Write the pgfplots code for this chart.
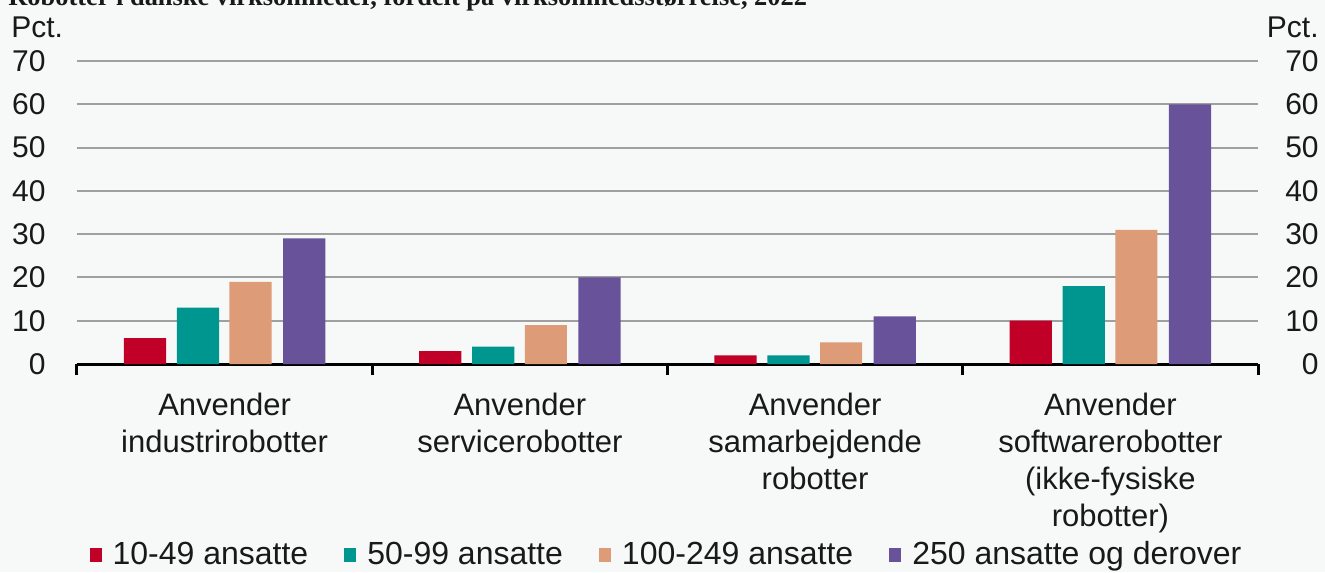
\documentclass[border=0pt]{standalone}
\usepackage{pgfplots}
\pgfplotsset{compat=1.18}
\usepackage{fontspec}
\setmainfont{Liberation Sans}
\newfontfamily\titlefont{Liberation Serif}
\definecolor{bgc}{RGB}{247,248,248}
\definecolor{cA}{RGB}{192,0,39}
\definecolor{cB}{RGB}{0,150,144}
\definecolor{cC}{RGB}{222,155,119}
\definecolor{cD}{RGB}{104,82,153}
\definecolor{gridc}{RGB}{160,160,160}
\definecolor{txt}{RGB}{25,25,25}
\begin{document}
\begin{tikzpicture}
\path[use as bounding box, fill=bgc] (-38.5pt,-104pt) rectangle (624pt,182pt);
\node[anchor=base west, inner sep=0pt, font=\titlefont\bfseries\fontsize{13.2}{15}\selectfont, text=txt] at (-34.5pt,179pt) {Robotter i danske virksomheder, fordelt på virksomhedsstørrelse, 2022};
\node[anchor=base west, inner sep=0pt, font=\fontsize{15}{18}\selectfont, text=txt] at (-33pt,163.25pt) {Pct.};
\node[anchor=base east, inner sep=0pt, font=\fontsize{15}{18}\selectfont, text=txt] at (621pt,163.25pt) {Pct.};
\begin{axis}[
  scale only axis, width=590.5pt, height=151.5pt,
  xmin=-0.5, xmax=3.5, ymin=0, ymax=70,
  axis lines*=left,
  x axis line style={line width=1.5pt, black},
  y axis line style={draw=none},
  ytick={0,10,...,70},
  ytick style={draw=none},
  ymajorgrids, grid style={gridc, line width=1pt},
  yticklabel style={anchor=east, inner sep=0pt, xshift=-10pt, font=\fontsize{15}{18}\selectfont, text=txt},
  /pgf/number format/assume math mode=true,
  xtick={-0.5,0.5,1.5,2.5,3.5},
  xticklabels={},
  xtick style={draw=black, line width=1.5pt},
  tick align=outside,
  major tick length=5.5pt,
  extra x ticks={0,1,2,3},
  extra x tick labels={{Anvender\\industrirobotter},{Anvender\\servicerobotter},{Anvender\\samarbejdende\\robotter},{Anvender\\softwarerobotter\\(ikke-fysiske\\robotter)}},
  extra x tick style={xtick style={draw=none}},
  xticklabel style={align=center, anchor=north, inner sep=0pt, yshift=-9pt, font=\fontsize{15.5}{18.5}\selectfont, text=txt},
  ybar, bar width=0.143,
  legend columns=4,
  legend style={at={(0.5,-0.63)}, anchor=center, draw=none, fill=none, inner sep=0pt,
    font=\fontsize{16}{19}\selectfont, text=txt,
    /tikz/every even column/.append style={column sep=16pt},
    /tikz/every odd column/.append style={column sep=3.5pt}},
  clip=false,
]
\addplot[fill=cA, draw=none, bar shift=-0.27, legend image code/.code={\fill[cA] (0pt,-3.5pt) rectangle (6pt,3.5pt);}] coordinates {(0,6) (1,3) (2,2) (3,10)};
\addplot[fill=cB, draw=none, bar shift=-0.09, legend image code/.code={\fill[cB] (0pt,-3.5pt) rectangle (6pt,3.5pt);}] coordinates {(0,13) (1,4) (2,2) (3,18)};
\addplot[fill=cC, draw=none, bar shift=0.088, legend image code/.code={\fill[cC] (0pt,-3.5pt) rectangle (6pt,3.5pt);}] coordinates {(0,19) (1,9) (2,5) (3,31)};
\addplot[fill=cD, draw=none, bar shift=0.27, legend image code/.code={\fill[cD] (0pt,-3.5pt) rectangle (6pt,3.5pt);}] coordinates {(0,29) (1,20) (2,11) (3,60)};
\addlegendentry{10-49 ansatte}
\addlegendentry{50-99 ansatte}
\addlegendentry{100-249 ansatte}
\addlegendentry{250 ansatte og derover}
\end{axis}
\begin{axis}[
  scale only axis, width=590.5pt, height=151.5pt,
  xmin=-0.5, xmax=3.5, ymin=0, ymax=70,
  hide x axis,
  axis y line*=right,
  y axis line style={draw=none},
  ytick={0,10,...,70},
  ytick style={draw=none},
  yticklabel style={anchor=east, inner sep=0pt, xshift=30.5pt, font=\fontsize{15}{18}\selectfont, text=txt},
  /pgf/number format/assume math mode=true,
]
\addplot[draw=none] coordinates {(0,0)};
\end{axis}
\end{tikzpicture}
\end{document}
